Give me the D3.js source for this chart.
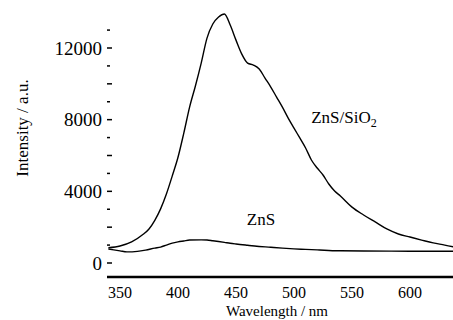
<!DOCTYPE html>
<html>
<head>
<meta charset="utf-8">
<script src="https://cdn.jsdelivr.net/npm/d3@7"></script>
<style>
  html, body { margin: 0; padding: 0; background: #fff; }
  svg { display: block; font-family: "Liberation Serif", "DejaVu Serif", serif; }
</style>
</head>
<body>
<svg id="chart" width="453" height="320"></svg>
<script>
// wavelength (nm) and emission intensity (a.u.)
const wlCoated = [340, 350, 360, 370, 375, 380, 385, 390, 395, 400, 405, 410, 415, 420, 425, 430, 435, 440,
    445, 450, 455, 460, 465, 470, 475, 480, 485, 490, 495, 500, 505, 510, 515, 520, 525, 530, 535, 540,
    550, 560, 570, 580, 590, 600, 610, 620, 630, 638];
const coated = [850, 950, 1180, 1600, 1900, 2380, 3020, 3850, 4850, 5900, 7250, 8700, 9880, 11160, 12550, 13340, 13730, 13900,
    13280, 12440, 11660, 11160, 11050, 10830, 10320, 9820, 9260, 8700, 8090, 7530, 6980, 6420, 5750, 5300, 4910, 4410, 4020, 3740,
    3120, 2680, 2290, 1900, 1620, 1450, 1280, 1120, 1000, 890];

const wlBare = [340, 350, 356, 365, 372, 380, 385, 390, 395, 400, 405, 410, 420, 425, 430, 440, 445, 450,
    460, 466, 480, 490, 500, 510, 520, 530, 540, 560, 600, 638];
const bare = [780, 680, 620, 650, 720, 830, 890, 1000, 1110, 1180, 1230, 1280, 1290, 1280, 1240, 1150, 1100, 1060,
    990, 950, 880, 830, 790, 760, 730, 700, 680, 670, 660, 660];

const xTicks = [350, 400, 450, 500, 550, 600];
const yLabels = [0, 4000, 8000, 12000];
const yMinor = d3.range(0, 14000, 1000);

const svg = d3.select('#chart');

const x = d3.scaleLinear().domain([350, 600]).range([120, 410]);
const y = d3.scaleLinear().domain([0, 12000]).range([263, 48]);

const line = d3.line()
    .x(d => x(d[0]))
    .y(d => y(d[1]))
    .curve(d3.curveMonotoneX);

// y ticks (no axis line, small inward ticks)
svg.append('g')
    .selectAll('line')
    .data(yMinor)
    .join('line')
    .attr('x1', 107)
    .attr('x2', d => d % 2000 === 0 ? 112 : 110)
    .attr('y1', d => y(d))
    .attr('y2', d => y(d))
    .attr('stroke', '#000')
    .attr('stroke-width', 1.5);

svg.append('g')
    .selectAll('text')
    .data(yLabels)
    .join('text')
    .attr('x', 102)
    .attr('y', d => y(d))
    .attr('dy', '0.35em')
    .attr('text-anchor', 'end')
    .attr('font-size', 19)
    .text(d => d);

// x axis
svg.append('line')
    .attr('x1', 107).attr('x2', 453)
    .attr('y1', 277).attr('y2', 277)
    .attr('stroke', '#000')
    .attr('stroke-width', 2.5);

svg.append('g')
    .selectAll('text')
    .data(xTicks)
    .join('text')
    .attr('x', d => x(d))
    .attr('y', 298)
    .attr('text-anchor', 'middle')
    .attr('font-size', 16)
    .text(d => d);

svg.append('text')
    .attr('x', 277).attr('y', 316)
    .attr('text-anchor', 'middle')
    .attr('font-size', 15)
    .text('Wavelength / nm');

svg.append('text')
    .attr('transform', 'translate(28,128) rotate(-90)')
    .attr('text-anchor', 'middle')
    .attr('font-size', 17)
    .text('Intensity / a.u.');

// spectra
svg.append('path')
    .datum(d3.zip(wlCoated, coated))
    .attr('fill', 'none')
    .attr('stroke', '#000')
    .attr('stroke-width', 1.4)
    .attr('d', line);

svg.append('path')
    .datum(d3.zip(wlBare, bare))
    .attr('fill', 'none')
    .attr('stroke', '#000')
    .attr('stroke-width', 1.4)
    .attr('d', line);

// curve labels
const lab1 = svg.append('text')
    .attr('x', 344).attr('y', 123)
    .attr('text-anchor', 'middle')
    .attr('font-size', 17)
    .text('ZnS/SiO');
lab1.append('tspan').attr('font-size', 12).attr('dy', 4).text('2');

svg.append('text')
    .attr('x', 261).attr('y', 225)
    .attr('text-anchor', 'middle')
    .attr('font-size', 17)
    .text('ZnS');
</script>
</body>
</html>
